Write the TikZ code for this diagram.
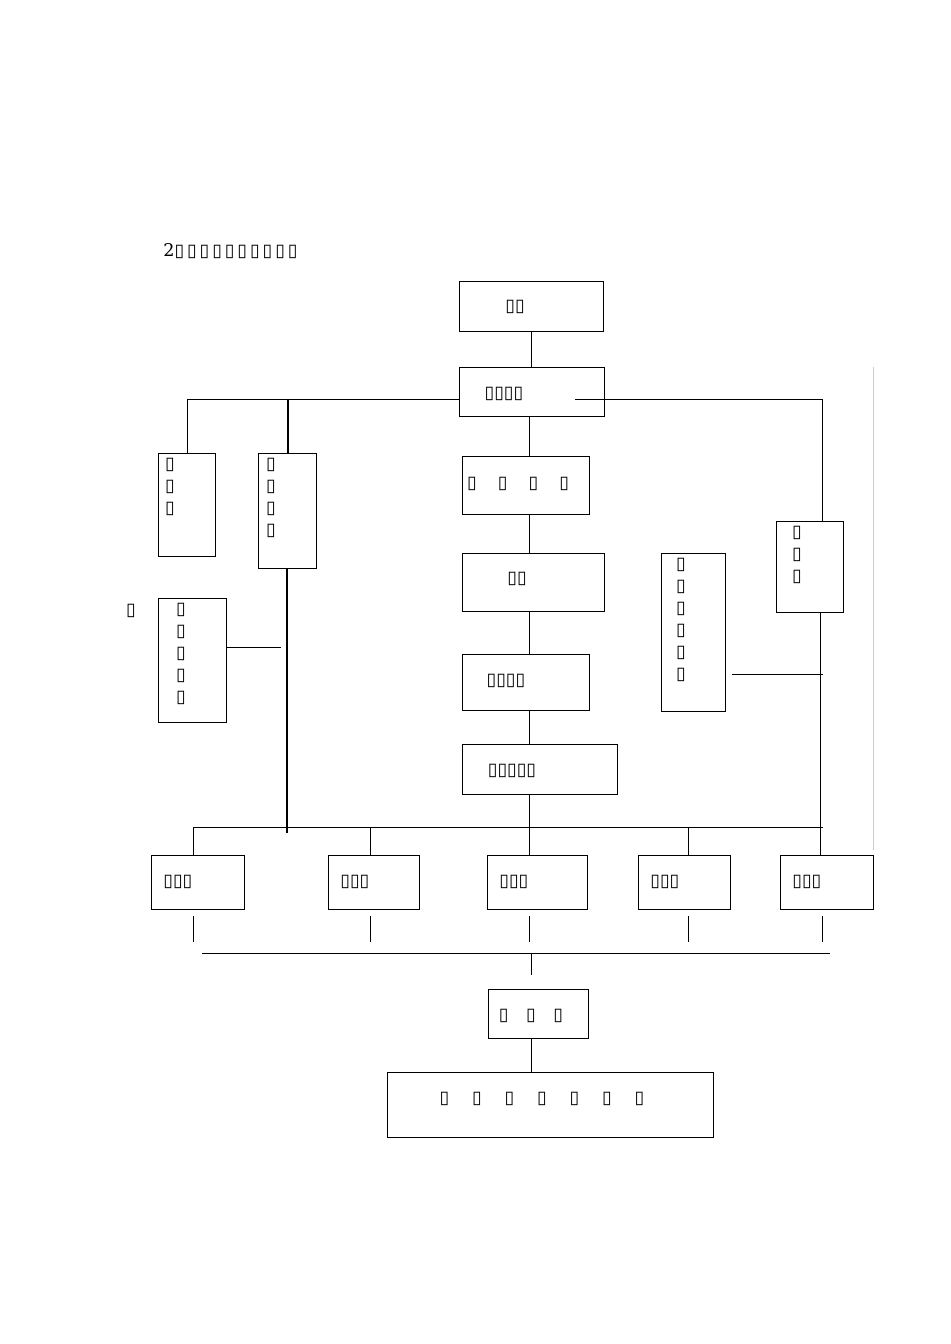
\documentclass[tikz,border=0pt]{standalone}
\usepackage{fontspec}
\setmainfont{DejaVu Serif}
\newfontfamily\tofufont{DejaVu Sans}
\usetikzlibrary{positioning, calc}
\newcommand{\tf}{{\tofufont ▯}}
\tikzset{%
    boxsty/.style={
        draw,
        thick,
        anchor=north west,
        inner sep=0pt,
    },
    txtsty/.style={
        align=center,
        inner sep=0pt,
        font=\fontsize{10}{12.5}\selectfont,
    },
    linesty/.style={
        line width=0.5pt,
    },
}
\begin{document}
\begin{tikzpicture}[x=0.02cm,y=-0.02cm]
\useasboundingbox (0,0) rectangle (950,1344);

% title
\node [txtsty,anchor=west] at (163,251) {2\tf\,\tf\,\tf\,\tf\,\tf\,\tf\,\tf\,\tf\,\tf\,\tf};

% main column
\node (top) [boxsty,minimum width=144*0.02cm,minimum height=50*0.02cm] at (459,281) {};
\node [txtsty] at (515,307) {\tf\tf};
\node (mgr) [boxsty,minimum width=145*0.02cm,minimum height=49*0.02cm] at (459,367) {};
\node [txtsty] at (504,394) {\tf\tf\tf\tf};
\node (c1) [boxsty,minimum width=127*0.02cm,minimum height=58*0.02cm] at (462,456) {};
\node [txtsty] at (518,484) {\tf\hspace{1.2em}\tf\hspace{1.2em}\tf\hspace{1.2em}\tf};
\node (c2) [boxsty,minimum width=142*0.02cm,minimum height=58*0.02cm] at (462,553) {};
\node [txtsty] at (517,579) {\tf\tf};
\node (c3) [boxsty,minimum width=127*0.02cm,minimum height=56*0.02cm] at (462,654) {};
\node [txtsty] at (506,681) {\tf\tf\tf\tf};
\node (c4) [boxsty,minimum width=155*0.02cm,minimum height=50*0.02cm] at (462,744) {};
\node [txtsty] at (512,771) {\tf\tf\tf\tf\tf};

% side departments
\node (l1) [boxsty,minimum width=57*0.02cm,minimum height=103*0.02cm] at (158,453) {};
\node [txtsty,anchor=north] at (170,458) {\tf\\\tf\\\tf};
\node (l2) [boxsty,minimum width=58*0.02cm,minimum height=115*0.02cm] at (258,453) {};
\node [txtsty,anchor=north] at (271,458) {\tf\\\tf\\\tf\\\tf};
\node (l3) [boxsty,minimum width=68*0.02cm,minimum height=124*0.02cm] at (158,598) {};
\node [txtsty,anchor=north] at (181,603) {\tf\\\tf\\\tf\\\tf\\\tf};
\node (stray) [txtsty] at (131,611) {\tf};
\node (r1) [boxsty,minimum width=64*0.02cm,minimum height=158*0.02cm] at (661,553) {};
\node [txtsty,anchor=north] at (681,558) {\tf\\\tf\\\tf\\\tf\\\tf\\\tf};
\node (r2) [boxsty,minimum width=67*0.02cm,minimum height=91*0.02cm] at (776,521) {};
\node [txtsty,anchor=north] at (797,526) {\tf\\\tf\\\tf};

% teams
\foreach \n/\xa/\xb in {t1/151/244, t2/328/419, t3/487/587, t4/638/730, t5/780/873}{
    \node (\n) [boxsty,minimum width=(\xb-\xa)*0.02cm,minimum height=54*0.02cm] at (\xa,855) {};
    \node [txtsty,anchor=west] at (\xa+12,882) {\tf\tf\tf};
}

% bottom
\node (b) [boxsty,minimum width=100*0.02cm,minimum height=49*0.02cm] at (488,989) {};
\node [txtsty] at (531,1016) {\tf\hspace{1em}\tf\hspace{1em}\tf};
\node (fin) [boxsty,minimum width=326*0.02cm,minimum height=65*0.02cm] at (387,1072) {};
\node [txtsty] at (542,1099) {\tf\hspace{1.3em}\tf\hspace{1.3em}\tf\hspace{1.3em}\tf\hspace{1.3em}\tf\hspace{1.3em}\tf\hspace{1.3em}\tf};

% connectors
\coordinate (busl) at (193,827);
\coordinate (busr) at (823,827);
\coordinate (bus2l) at (202,953);
\coordinate (bus2r) at (830,953);
\draw [linesty] (top.south -| 531,0) -- (mgr.north -| 531,0);
\draw [linesty] (mgr.west |- 0,399) -| (l1.north -| 187,0);
\draw [thick] (288,399) -- (l2.north -| 288,0);
\draw [linesty] (575,399) -| (r2.north -| 822,0) ++(0,-22);
\draw [linesty] (mgr.south -| 529,0) -- (c1.north -| 529,0);
\draw [linesty] (c1.south -| 529,0) -- (c2.north -| 529,0);
\draw [linesty] (c2.south -| 529,0) -- (c3.north -| 529,0);
\draw [linesty] (c3.south -| 529,0) -- (c4.north -| 529,0);
\draw [linesty] (c4.south -| 529,0) -- (busl -| 529,0);
\draw [thick] (l2.south -| 287,0) -- (287,833);
\draw [linesty] (l3.east |- 0,647) -- (281,647);
\draw [linesty] (r2.south -| 820,0) -- (t5.north -| 820,0);
\draw [linesty] (r1.east |- 0,674) ++(6,0) -- (823,674);
\draw [linesty] (busl) -- (busr);
\foreach \n/\xx in {t1/193, t2/370, t3/529, t4/688}{
    \draw [linesty] (busl -| \xx,0) -- (\n.north -| \xx,0);
}
\foreach \n/\xx in {t1/193, t2/370, t3/529, t4/688, t5/822}{
    \draw [linesty] ($(\n.south -| \xx,0)+(0,6)$) -- ++(0,26);
}
\draw [linesty] (bus2l) -- (bus2r);
\draw [linesty] (bus2l -| 531,0) -- ++(0,22);
\draw [linesty] (b.south -| 531,0) -- (fin.north -| 531,0);
\draw [gray!40] (873,367) -- (873,850);
\end{tikzpicture}
\end{document}
